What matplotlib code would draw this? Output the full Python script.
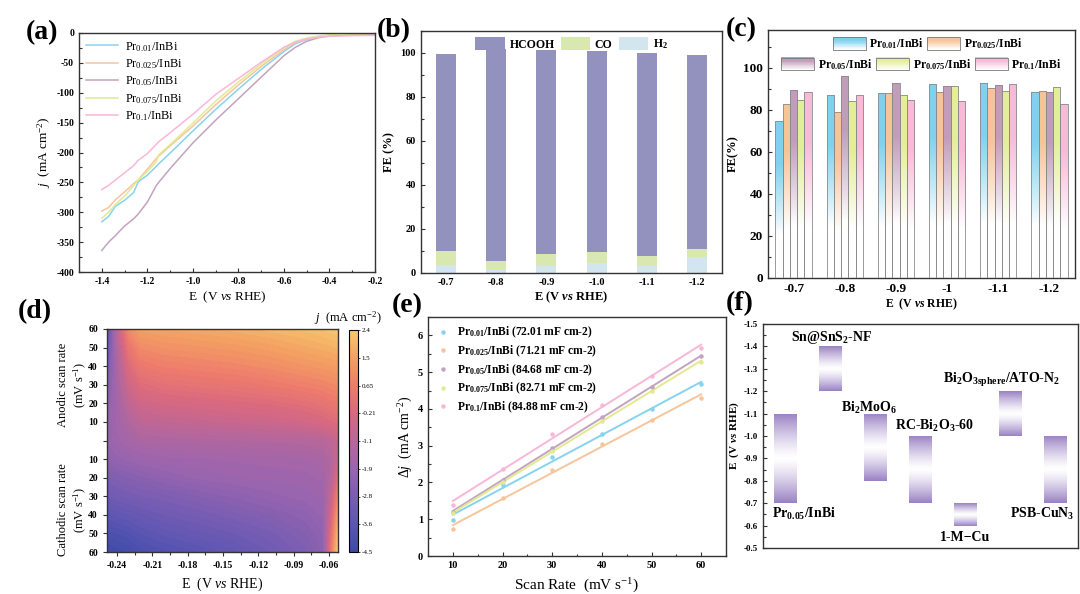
import numpy as np
import matplotlib
matplotlib.use("Agg")
import matplotlib.pyplot as plt
from matplotlib.patches import Rectangle, Patch
from matplotlib.legend_handler import HandlerBase
from matplotlib.colors import LinearSegmentedColormap, Normalize, to_rgb
from matplotlib.ticker import MultipleLocator
import matplotlib.cm as cm

plt.rcParams["font.family"] = ["Liberation Serif", "Noto Sans CJK SC"]
plt.rcParams["mathtext.fontset"] = "custom"
plt.rcParams["mathtext.rm"] = "Liberation Serif"
plt.rcParams["mathtext.it"] = "Liberation Serif:italic"
plt.rcParams["mathtext.bf"] = "Liberation Serif:bold"
plt.rcParams["mathtext.bfit"] = "Liberation Serif:italic:bold"
plt.rcParams["axes.unicode_minus"] = False

# ---------------- data ----------------
# (a) LSV curves
lsv_e = [-1.40, -1.37, -1.34, -1.30, -1.26, -1.24, -1.20, -1.16, -1.15, -1.10,
         -1.00, -0.90, -0.80, -0.70, -0.60, -0.55, -0.50, -0.45, -0.40, -0.30, -0.20]
lsv_pr001 = [-316, -307, -290, -280, -267, -249, -238, -223, -219, -201,
             -164, -128, -94, -61, -31, -18, -11, -6.5, -4, -2.5, -1.7]
lsv_pr0025 = [-298, -292, -279, -266, -252, -246, -228, -210, -206, -189,
              -156, -120, -87, -56, -28, -16, -10, -6, -3.8, -2.3, -1.7]
lsv_pr005 = [-364, -350, -339, -323, -311, -303, -283, -255, -250, -227,
             -184, -146, -110, -74, -38, -24, -14, -8, -5, -3, -2]
lsv_pr0075 = [-310, -300, -287, -273, -255, -246, -232, -215, -204, -187,
              -151, -114, -82, -52, -25, -14, -8.5, -5, -3, -1.5, -1.1]
lsv_pr01 = [-262, -255, -246, -234, -222, -213, -202, -186, -182, -167,
            -136, -103, -76, -49, -24, -15, -10, -7, -5.5, -4.5, -4]

# (b) product FE for Pr0.05/InBi
fe_pot = ["-0.7", "-0.8", "-0.9", "-1.0", "-1.1", "-1.2"]
fe_h2 = [3.8, 1.5, 3.3, 4.7, 3.3, 7.1]
fe_co = [6.2, 4.1, 5.3, 4.7, 4.4, 4.0]
fe_hcooh = [89.7, 96.2, 92.6, 91.5, 92.1, 88.1]

# (c) HCOOH FE of all samples
c_pot = ["-0.7", "-0.8", "-0.9", "-1", "-1.1", "-1.2"]
fe_pr001 = [74.6, 87.2, 88.1, 92.2, 93.0, 88.6]
fe_pr0025 = [82.9, 78.9, 88.1, 88.4, 90.3, 89.2]
fe_pr005 = [89.6, 96.3, 92.7, 91.4, 91.9, 88.3]
fe_pr0075 = [84.5, 84.3, 87.2, 91.3, 88.8, 91.0]
fe_pr01 = [88.4, 87.0, 84.5, 84.0, 92.5, 82.9]

# (d) current density map
map_e = [-0.2485, -0.24, -0.23, -0.22, -0.20, -0.17, -0.14, -0.11, -0.08, -0.065, -0.058, -0.0525]
map_rate = [60, 50, 40, 30, 20, 10, 0, -10, -20, -30, -40, -50, -60]  # + anodic, - cathodic
map_j = [
    [-3.8, -1.0, 1.0, 1.5, 1.6, 1.7, 1.8, 1.95, 2.1, 2.2, 2.3, 2.35],
    [-3.4, -1.3, 0.4, 1.0, 1.15, 1.25, 1.35, 1.5, 1.7, 1.8, 1.85, 1.9],
    [-3.0, -1.5, -0.1, 0.5, 0.7, 0.8, 0.9, 1.05, 1.25, 1.35, 1.4, 1.45],
    [-2.6, -1.6, -0.5, 0.0, 0.2, 0.3, 0.4, 0.55, 0.75, 0.85, 0.95, 1.0],
    [-2.3, -1.7, -0.9, -0.5, -0.35, -0.25, -0.15, -0.05, 0.15, 0.3, 0.45, 0.5],
    [-2.1, -1.7, -1.3, -0.95, -0.85, -0.75, -0.65, -0.55, -0.4, -0.25, -0.1, 0.0],
    [-2.0, -1.8, -1.6, -1.45, -1.4, -1.35, -1.3, -1.25, -1.2, -1.1, -0.9, -0.7],
    [-2.3, -2.1, -2.0, -1.9, -1.8, -1.75, -1.7, -1.65, -1.6, -1.5, -1.2, -0.6],
    [-2.7, -2.6, -2.5, -2.4, -2.2, -2.0, -1.9, -1.85, -1.8, -1.7, -1.1, 0.0],
    [-3.1, -3.0, -2.9, -2.8, -2.7, -2.5, -2.3, -2.1, -1.95, -1.85, -0.7, 0.8],
    [-3.6, -3.5, -3.4, -3.3, -3.1, -2.9, -2.7, -2.5, -2.25, -2.0, -0.3, 1.5],
    [-4.1, -4.0, -3.9, -3.7, -3.5, -3.3, -3.1, -2.85, -2.5, -2.2, 0.2, 2.0],
    [-4.5, -4.4, -4.3, -4.1, -3.9, -3.7, -3.45, -3.1, -2.7, -2.3, 0.6, 2.4],
]
cbar_ticks = [-4.5, -3.6375, -2.775, -1.9125, -1.05, -0.1875, 0.675, 1.5375, 2.4]
cbar_labels = ["-4.5", "-3.6", "-2.8", "-1.9", "-1.1", "-0.21", "0.65", "1.5", "2.4"]

# (e) double-layer capacitance
scan_rate = [10, 20, 30, 40, 50, 60]
dj_pr001 = [0.98, 1.93, 2.68, 3.33, 3.99, 4.67]
dj_pr0025 = [0.74, 1.58, 2.34, 3.04, 3.70, 4.31]
dj_pr005 = [1.19, 2.08, 2.95, 3.77, 4.60, 5.43]
dj_pr0075 = [1.16, 2.00, 2.86, 3.68, 4.50, 5.28]
dj_pr01 = [1.39, 2.36, 3.31, 4.11, 4.90, 5.66]
cdl = ["72.01", "71.21", "84.68", "82.71", "84.88"]

# (f) potential windows, literature comparison
ref_names = ["Pr$_\\mathbf{0.05}$/InBi", "Sn@SnS$_\\mathbf{2}$-NF", "Bi$_\\mathbf{2}$MoO$_\\mathbf{6}$",
             "RC-Bi$_\\mathbf{2}$O$_\\mathbf{3}$-60", "1-M\u2212Cu",
             "Bi$_\\mathbf{2}$O$_\\mathbf{3sphere}$/ATO-N$_\\mathbf{2}$", "PSB-CuN$_\\mathbf{3}$"]
ref_low = [-0.7, -1.2, -0.8, -0.7, -0.6, -1.0, -0.7]
ref_high = [-1.1, -1.4, -1.1, -1.0, -0.7, -1.2, -1.0]
ref_label_xy = [(0.4, -0.65), (1.02, -1.44), (1.85, -1.125), (3.32, -1.045),
                (4.0, -0.545), (4.8, -1.25), (5.7, -0.65)]

samples = ["Pr$_{0.01}$/InBi", "Pr$_{0.025}$/InBi", "Pr$_{0.05}$/InBi",
           "Pr$_{0.075}$/InBi", "Pr$_{0.1}$/InBi"]
samples_bf = ["Pr$_\\mathbf{0.01}$/InBi", "Pr$_\\mathbf{0.025}$/InBi", "Pr$_\\mathbf{0.05}$/InBi",
              "Pr$_\\mathbf{0.075}$/InBi", "Pr$_\\mathbf{0.1}$/InBi"]
line_colors = ["#86d3f0", "#f6c59c", "#c3a3bf", "#e2ea90", "#f9b7d7"]
bar_colors = ["#7fd2ef", "#f7c39a", "#c29dba", "#e4ee98", "#f9bad8"]

W, H = 1080, 594
fig = plt.figure(figsize=(10.8, 5.94), dpi=100)


def box(l, t, r, b):
    return [l / W, 1 - b / H, (r - l) / W, (b - t) / H]


def style(ax, size=7, bold=True, direction="in"):
    for s in ax.spines.values():
        s.set_linewidth(1.0)
        s.set_color("#333333")
    ax.tick_params(which="both", direction=direction, labelsize=size, width=0.8, color="#333333")
    ax.tick_params(which="major", length=3)
    ax.tick_params(which="minor", length=1.8)
    if bold:
        for lab in ax.get_xticklabels() + ax.get_yticklabels():
            lab.set_fontweight("bold")


def blend(color, f):
    c = np.array(to_rgb(color))
    return (1 - f) * np.ones(3) + f * c


def grad_rect(ax, x0, y0, w, h, fvals, color, edge=None, z=2):
    rect = Rectangle((x0, y0), w, h, facecolor="none",
                     edgecolor=edge if edge else "none", lw=0.6, zorder=z + 1)
    ax.add_patch(rect)
    img = np.array([blend(color, f) for f in fvals])[:, None, :]
    im = ax.imshow(img, extent=[x0, x0 + w, y0, y0 + h], origin="lower",
                   aspect="auto", interpolation="bilinear", zorder=z)
    im.set_clip_path(rect)


class GradHandler(HandlerBase):
    def create_artists(self, legend, orig_handle, xdescent, ydescent, width, height, fontsize, trans):
        col = orig_handle.get_facecolor()
        arts = []
        n = 16
        for i in range(n):
            f = min(1.0, (i / (n - 1)) * 1.3)
            arts.append(Rectangle((-xdescent, -ydescent + i * height / n), width, height / n + 0.3,
                                  facecolor=blend(col[:3], f), edgecolor="none", transform=trans))
        arts.append(Rectangle((-xdescent, -ydescent), width, height, facecolor="none",
                              edgecolor="#777777", lw=0.6, transform=trans))
        return arts


# ---------------- (a) ----------------
ax = fig.add_axes(box(79, 33, 375, 272))
for yv, c, lab in zip([lsv_pr001, lsv_pr0025, lsv_pr005, lsv_pr0075, lsv_pr01], line_colors, samples):
    ax.plot(lsv_e, yv, color=c, lw=1.1, label=lab)
ax.set_xlim(-1.5, -0.2)
ax.set_ylim(-400, 0)
ax.xaxis.set_minor_locator(MultipleLocator(0.1))
ax.yaxis.set_major_locator(MultipleLocator(50))
ax.yaxis.set_minor_locator(MultipleLocator(25))
ax.set_xticks(np.arange(-1.4, -0.19, 0.2))
ax.set_xticklabels(["-1.4", "-1.2", "-1.0", "-0.8", "-0.6", "-0.4", "-0.2"])
style(ax, 7)
ax.set_xlabel("E  (V $\\mathit{vs}$ RHE)", fontsize=9.5, labelpad=3)
ax.set_ylabel("$\\mathit{j}$  (mA cm$^{-2}$)", fontsize=9.5, labelpad=2)
ax.legend(loc="upper left", frameon=False, fontsize=8.8, handlelength=2.6,
          labelspacing=0.3, borderaxespad=0.15, handletextpad=0.6)

# ---------------- (b) ----------------
ax = fig.add_axes(box(421, 31, 722, 273))
xb = np.arange(len(fe_pot))
bot_co = np.array(fe_h2)
bot_hc = bot_co + np.array(fe_co)
ax.bar(xb, fe_h2, 0.4, color="#d3e6ef", label="H$_\\mathbf{2}$", zorder=2)
ax.bar(xb, fe_co, 0.4, bottom=bot_co, color="#d8e8b0", label="CO", zorder=2)
ax.bar(xb, fe_hcooh, 0.4, bottom=bot_hc, color="#9391be", label="HCOOH", zorder=2)
ax.set_xlim(-0.5, 5.5)
ax.set_ylim(0, 110)
ax.set_xticks(xb)
ax.set_xticklabels(fe_pot)
ax.yaxis.set_major_locator(MultipleLocator(20))
ax.yaxis.set_minor_locator(MultipleLocator(10))
style(ax, 7.5)
ax.set_xlabel("E (V $\\mathbfit{vs}$ RHE)", fontsize=9, fontweight="bold", labelpad=2)
ax.set_ylabel("FE (%)", fontsize=9, fontweight="bold", labelpad=4)
hs, ls = ax.get_legend_handles_labels()
ax.legend(hs[::-1], ls[::-1], loc="upper center", ncol=3, frameon=False,
          prop={"weight": "bold", "size": 8.5}, handlelength=2.5, handleheight=1.2,
          columnspacing=0.5, handletextpad=0.4, borderaxespad=0.15)

# ---------------- (c) ----------------
ax = fig.add_axes(box(768, 30, 1075, 278))
xc = np.arange(len(c_pot))
bw = 0.142
series_c = [fe_pr001, fe_pr0025, fe_pr005, fe_pr0075, fe_pr01]
tgrid = np.linspace(0, 1, 80)
for k, (vals, col) in enumerate(zip(series_c, bar_colors)):
    for i, v in enumerate(vals):
        x0 = xc[i] + (k - 2.5) * bw
        f = np.clip((tgrid - 0.28) / 0.45, 0, 1) ** 0.9
        grad_rect(ax, x0, 0, bw, v, f, col, edge="#8a8a8a")
ax.set_xlim(-0.5, 5.5)
ax.set_ylim(0, 118)
ax.set_xticks(xc)
ax.set_xticklabels(c_pot)
ax.yaxis.set_major_locator(MultipleLocator(20))
ax.yaxis.set_minor_locator(MultipleLocator(10))
style(ax, 9.5)
ax.set_xlabel("E  (V $\\mathbfit{vs}$ RHE)", fontsize=8.5, fontweight="bold", labelpad=1)
ax.set_ylabel("FE(%)", fontsize=9, fontweight="bold", labelpad=3)
proxies = [Patch(facecolor=c) for c in bar_colors]
lk = dict(frameon=False, prop={"weight": "bold", "size": 8.5}, handlelength=2.8,
          handleheight=1.25, columnspacing=0.3, handletextpad=0.3,
          handler_map={Patch: GradHandler()}, borderaxespad=0.15)
leg1 = ax.legend(proxies[:2], samples_bf[:2], loc="upper center", ncol=2,
                 bbox_to_anchor=(0.52, 1.0), **lk)
ax.add_artist(leg1)
ax.legend(proxies[2:], samples_bf[2:], loc="upper center", ncol=3,
          bbox_to_anchor=(0.5, 0.918), **lk)

# ---------------- (d) ----------------
ax = fig.add_axes(box(107, 329, 338, 552))
cmap = LinearSegmentedColormap.from_list(
    "jmap", ["#3d4aa8", "#5c56b3", "#7a5db2", "#9b65ae", "#b8679a",
             "#d8687f", "#ee7c6c", "#f4a062", "#f6c96c"])
norm = Normalize(-4.5, 2.4)
ax.contourf(map_e, map_rate, map_j, levels=np.linspace(-4.6, 2.5, 48), cmap=cmap, norm=norm)
ax.set_xlim(-0.2485, -0.0525)
ax.set_ylim(-60, 60)
ax.set_xticks([-0.24, -0.21, -0.18, -0.15, -0.12, -0.09, -0.06])
ax.set_xticklabels(["-0.24", "-0.21", "-0.18", "-0.15", "-0.12", "-0.09", "-0.06"])
ax.xaxis.set_minor_locator(MultipleLocator(0.015))
ax.set_yticks(np.arange(-60, 61, 10))
ax.set_yticklabels([str(abs(v)) if v != 0 else "" for v in np.arange(-60, 61, 10)])
style(ax, 7, direction="out")
ax.set_xlabel("E  (V $\\mathit{vs}$ RHE)", fontsize=10, labelpad=4)
fig.text(73 / W, 1 - 385 / H, "Anodic scan rate\n(mV s$^{-1}$)", rotation=90,
         ha="center", va="center", multialignment="center", fontsize=9, linespacing=1.2)
fig.text(73 / W, 1 - 510 / H, "Cathodic scan rate\n(mV s$^{-1}$)", rotation=90,
         ha="center", va="center", multialignment="center", fontsize=9, linespacing=1.2)
cax = fig.add_axes(box(349, 330, 358, 552))
cb = fig.colorbar(cm.ScalarMappable(norm=norm, cmap=cmap), cax=cax)
cb.set_ticks(cbar_ticks)
cb.set_ticklabels(cbar_labels)
cb.ax.tick_params(labelsize=5, length=1.5, width=0.5, pad=1)
cb.outline.set_linewidth(0.8)
fig.text(348 / W, 1 - 318 / H, "$\\mathit{j}$  (mA cm$^{-2}$)", ha="center", va="center", fontsize=9)

# ---------------- (e) ----------------
ax = fig.add_axes(box(428, 317, 726, 556))
series_e = [dj_pr001, dj_pr0025, dj_pr005, dj_pr0075, dj_pr01]
xs = np.array(scan_rate, dtype=float)
for vals, col, lab, cd in zip(series_e, line_colors, samples_bf, cdl):
    p = np.polyfit(xs, vals, 1)
    ax.plot(xs, np.polyval(p, xs), color=col, lw=1.4, zorder=2)
    ax.plot(xs, vals, "o", ms=2.2, color=col, zorder=3, label=f"{lab} ({cd} mF cm-2)")
ax.set_xlim(5, 65)
ax.set_ylim(0, 6.5)
ax.set_xticks(scan_rate)
ax.xaxis.set_minor_locator(MultipleLocator(5))
ax.yaxis.set_major_locator(MultipleLocator(1))
ax.yaxis.set_minor_locator(MultipleLocator(0.5))
style(ax, 7.5)
ax.set_xlabel("Scan Rate  (mV s$^{-1}$)", fontsize=11, labelpad=5)
ax.set_ylabel("$\\mathit{\\Delta j}$  (mA cm$^{-2}$)", fontsize=10, labelpad=2)
ax.legend(loc="upper left", frameon=False, prop={"weight": "bold", "size": 8.3},
          handlelength=1.2, handletextpad=0.6, labelspacing=0.28, borderaxespad=0.3)

# ---------------- (f) ----------------
ax = fig.add_axes(box(763, 324, 1078, 548))
sgrid = np.linspace(-1, 1, 80)
for i, (lo, hi) in enumerate(zip(ref_low, ref_high)):
    f = np.abs(sgrid) ** 1.3
    grad_rect(ax, i - 0.25, hi, 0.5, lo - hi, f, "#9a82c4")
for name, (tx, ty) in zip(ref_names, ref_label_xy):
    ax.text(tx, ty, name, ha="center", va="center", fontsize=10, fontweight="bold", zorder=5)
ax.set_xlim(-0.5, 6.5)
ax.set_ylim(-0.5, -1.5)
ax.set_xticks([])
ax.yaxis.set_minor_locator(MultipleLocator(0.05))
yt = np.round(np.arange(-1.5, -0.45, 0.1), 1)
ax.set_yticks(yt)
ax.set_yticklabels([f"{v:.1f}" for v in yt])
style(ax, 6.5)
ax.set_ylabel("E  (V $\\mathbfit{vs}$ RHE)", fontsize=8, fontweight="bold", labelpad=2)

# panel letters
for lab, (px, py) in zip(["(a)", "(b)", "(c)", "(d)", "(e)", "(f)"],
                         [(26, 33), (377, 31), (726, 30), (18, 312), (392, 306), (726, 304)]):
    fig.text(px / W, 1 - py / H, lab, fontsize=20, fontweight="bold", ha="left", va="center")

fig.savefig("out.png", dpi=100)
